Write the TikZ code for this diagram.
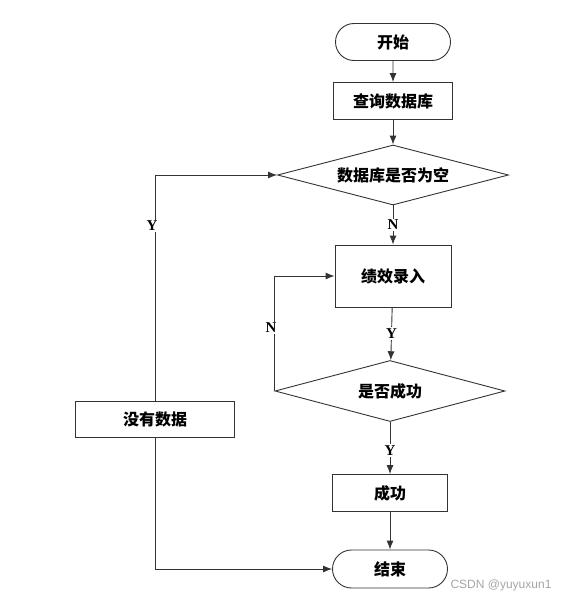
\documentclass[tikz,border=0pt]{standalone}
\usepackage{fontspec}
\usepackage{tikz}
\usetikzlibrary{arrows.meta,positioning,shapes.geometric,shapes.misc}
\newfontfamily\cjk{Noto Sans CJK SC}
\setmainfont{Liberation Serif}
\newfontfamily\wmfont{Liberation Sans}

\begin{document}
\begin{tikzpicture}[x=1pt,y=-1pt,
  line width=0.9pt,draw=black!80,
  font=\cjk\bfseries\fontsize{16}{18}\selectfont,
  flow/.style={arrows={-Latex[length=9pt,width=7pt]}},
  terminal/.style={rounded rectangle,draw=black!80,minimum width=115,minimum height=37,inner sep=0},
  proc/.style={rectangle,draw=black!80,minimum width=117,minimum height=37,inner sep=0},
  decide/.style={diamond,draw=black!80,minimum width=231,minimum height=60,aspect=3.85,inner sep=0},
  yn/.style={fill=white,inner sep=1.5pt,font=\rmfamily\bfseries\fontsize{15}{17}\selectfont}]
\useasboundingbox (0,0) rectangle (572,602);
\node[terminal] (start) at (393,42) {开始};
\node[proc,minimum width=119] (query) at (393,101) {查询数据库};
\node[decide] (empty) at (393,175) {数据库是否为空};
\node[proc,minimum width=116,minimum height=62] (input) at (393,276) {绩效录入};
\node[decide,minimum width=230,minimum height=61] (check) at (390,391) {是否成功};
\node[proc,minimum width=115] (done) at (390,493) {成功};
\node[terminal,minimum height=38] (finish) at (390,569) {结束};
\node[proc,minimum width=159,minimum height=36] (nodata) at (155,419) {没有数据};
\draw[flow] (start) -- (query);
\draw[flow] (query) -- (empty);
\draw[flow] (empty) -- node[yn] {N} (input);
\draw[flow] (input) -- node[yn] {Y} (check);
\draw[flow] (check) -- node[yn,pos=0.55] {Y} (done);
\draw[flow] (done) -- (finish);
\draw[flow] (nodata.north) |- (empty.west);
\node[yn] (ylab) at (152,226) {Y};
\draw[flow] (nodata.south) |- (finish.west);
\draw[flow] (check.west) |- (input.west);
\node[yn] (nlab) at (271,328) {N};
\node[text=black!35,font=\wmfont\fontsize{12}{14}\selectfont] (mark) at (501,585) {CSDN @yuyuxun1};
\end{tikzpicture}
\end{document}
